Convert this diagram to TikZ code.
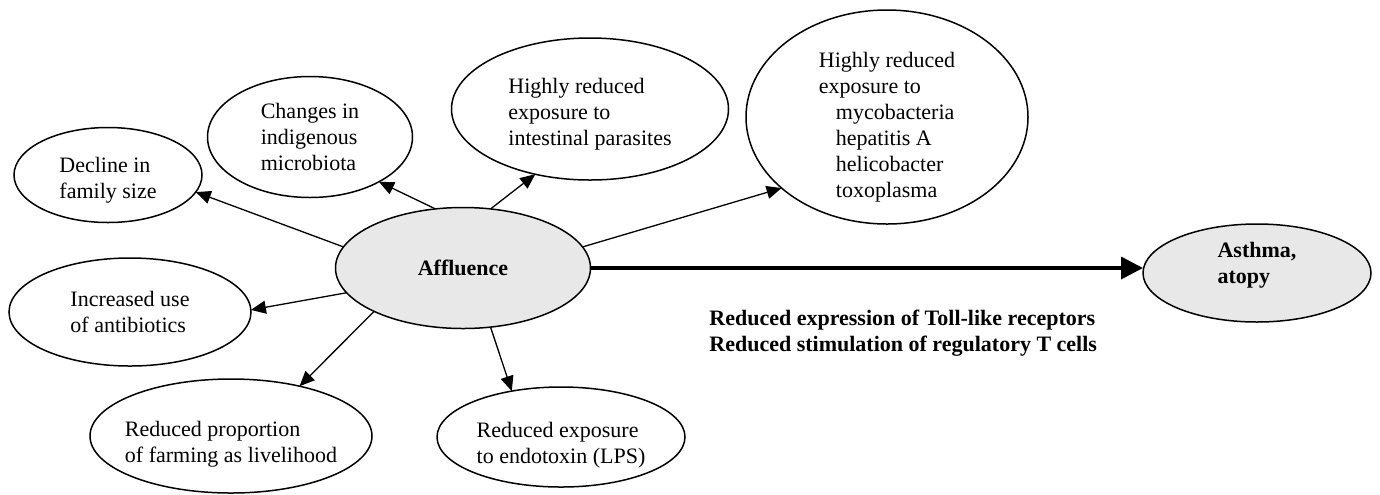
\documentclass[tikz,border=0pt]{standalone}
\usepackage{fontspec}
\setmainfont{Liberation Serif}
\usepackage{xcolor}
\usetikzlibrary{arrows.meta,shapes.geometric}

\definecolor{corefill}{HTML}{E8E8E8}

\tikzset{
  cause/.style={ellipse, draw, line width=0.75pt, inner sep=0pt, outer sep=0pt,
    align=left, font=\fontsize{11}{13}\selectfont},
  core/.style={cause, fill=corefill, font=\fontsize{11}{13}\selectfont\bfseries},
  link/.style={line width=0.65pt, -{Triangle[length=7.5pt,width=6.5pt]}},
  mainlink/.style={line width=1.8pt, -{Triangle[length=11pt,width=11pt]}}
}

\begin{document}
\begin{tikzpicture}[x=0.5pt, y=-0.5pt]
    \useasboundingbox (0,0) rectangle (1380,494);

    % Nodo centrale e esito
    \node[core, minimum width=127.5pt, minimum height=60.5pt] (aff) at (463,268) {Affluence};
    \node[core, minimum width=114pt, minimum height=49pt, text depth=10pt] (asth) at (1257,273) {Asthma,\\ atopy};

    % Fattori
    \node[cause, minimum width=94pt, minimum height=47.5pt, text height=25.5pt] (decl) at (108,175) {Decline in\\ family size};
    \node[cause, minimum width=102.5pt, minimum height=60.5pt] (chg) at (310,137) {Changes in\\ indigenous\\ microbiota};
    \node[cause, minimum width=138.5pt, minimum height=71pt, text height=38.5pt] (para) at (590,109) {Highly reduced\\ exposure to\\ intestinal parasites};
    \node[cause, minimum width=141pt, minimum height=107pt, text height=82.5pt, inner ysep=-5pt] (myco) at (887,117)
      {Highly reduced\\ exposure to\\ \hspace*{8.5pt}mycobacteria\\ \hspace*{8.5pt}hepatitis A\\ \hspace*{8.5pt}helicobacter\\ \hspace*{8.5pt}toxoplasma};
    \node[cause, minimum width=121pt, minimum height=54pt] (anti) at (130,312) {Increased use\\ of antibiotics};
    \node[cause, minimum width=141pt, minimum height=57pt, inner xsep=-4pt, text height=28.5pt] (farm) at (231,436) {Reduced proportion\\ of farming as livelihood};
    \node[cause, minimum width=124pt, minimum height=50pt, text height=28.5pt] (lps) at (561,437) {Reduced exposure\\ to endotoxin (LPS)};

    % Frecce
    \draw[link] (aff.170) -- (decl.-11);
    \draw[link] (aff.115) -- (chg.-33);
    \draw[link] (aff.65) -- (para.-130);
    \draw[link] (aff.10) -- (myco.-146);
    \draw[link] (aff.-168) -- (anti.1);
    \draw[link] (aff.-154) -- (farm.36);
    \draw[link] (aff.-65) -- (lps.137);
    \draw[mainlink] (aff.east) -- (aff.east -| asth.west);

    % Meccanismi
    \node[anchor=north west, align=left, inner sep=0pt, font=\fontsize{11}{13}\selectfont\bfseries]
      (mech) at (709,310) {Reduced expression of Toll-like receptors\\ Reduced stimulation of regulatory T cells};
\end{tikzpicture}
\end{document}
